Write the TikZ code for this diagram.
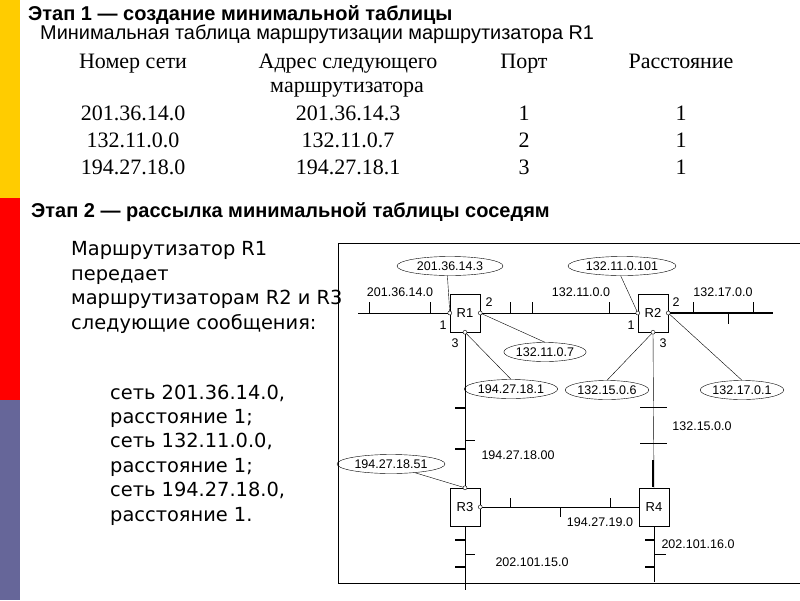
\documentclass[tikz,border=0pt]{standalone}
\usepackage{fontspec}
\setmainfont{Liberation Sans}
\newfontfamily\tabfont{Liberation Serif}
\newfontfamily\msgfont{DejaVu Sans}
\usetikzlibrary{shapes.geometric}
\definecolor{baryellow}{RGB}{255,204,0}
\definecolor{barred}{RGB}{255,0,0}
\definecolor{barslate}{RGB}{102,102,153}

\begin{document}
\begin{tikzpicture}[x=1pt,y=-1pt,
  router/.style={draw,rectangle,minimum width=30pt,minimum height=38pt,inner sep=0pt,font=\fontsize{13}{13}\selectfont},
  port/.style={draw,circle,fill=white,minimum size=4pt,inner sep=0pt},
  addr/.style={draw,ellipse,minimum height=19pt,inner sep=0pt,font=\fontsize{12.5}{12.5}\selectfont},
  lbl/.style={inner sep=0pt,font=\fontsize{12.5}{12.5}\selectfont},
  cell/.style={anchor=base,inner sep=0pt,font=\tabfont\fontsize{22}{22}\selectfont},
  msg/.style={anchor=base west,inner sep=0pt,align=left,font=\msgfont\fontsize{19.4}{24.4}\selectfont}]
\useasboundingbox (0,0) rectangle (800,600);
% Side bar
\fill[baryellow] (0,0) rectangle (20,198);
\fill[barred] (0,198) rectangle (20,400);
\fill[barslate] (0,400) rectangle (20,600);

% Stage 1 and table
\node[anchor=base west,inner sep=0pt,font=\fontsize{20}{20}\selectfont\bfseries] (stage1) at (28,20) {Этап 1 — создание минимальной таблицы};
\node[anchor=base west,inner sep=0pt,font=\fontsize{19.9}{19.9}\selectfont] (caption) at (40,39) {Минимальная таблица маршрутизации маршрутизатора R1};
\node[cell] (h1) at (133,68) {Номер сети};
\node[cell] (h2) at (348,68) {Адрес следующего};
\node[cell] (h2b) at (347,92) {маршрутизатора};
\node[cell] (h3) at (524,68) {Порт};
\node[cell] (h4) at (681,68) {Расстояние};
\foreach \net/\hop/\prt [count=\i] in {201.36.14.0/201.36.14.3/1,132.11.0.0/132.11.0.7/2,194.27.18.0/194.27.18.1/3} {
  \pgfmathsetmacro{\rowy}{94+\i*26.8}
  \node[cell] (net\i) at (133,\rowy) {\net};
  \node[cell] (hop\i) at (348,\rowy) {\hop};
  \node[cell] (prt\i) at (524,\rowy) {\prt};
  \node[cell] (dst\i) at (681,\rowy) {1};
}

% Stage 2 text
\node[anchor=base west,inner sep=0pt,font=\fontsize{20}{20}\selectfont\bfseries] (stage2) at (31,217) {Этап 2 — рассылка минимальной таблицы соседям};
\node[msg] (sends) at (71,329) {Маршрутизатор R1\\передает\\маршрутизаторам R2 и R3\\следующие сообщения:};
\node[msg] (msgs) at (110,521) {сеть 201.36.14.0,\\расстояние 1;\\сеть 132.11.0.0,\\расстояние 1;\\сеть 194.27.18.0,\\расстояние 1.};

% Frame of the network
\draw[line width=0.8pt] (800,243) -- (338,243) -- (338,583) -- (800,583);

% Routers
\node[router] (R1) at (465,313) {R1};
\node[router] (R2) at (653,313) {R2};
\node[router] (R3) at (465,507) {R3};
\node[router] (R4) at (654,507) {R4};
\coordinate (end1) at (358,313);
\coordinate (end2) at (773,313);
\coordinate (end3) at (465,590);
\coordinate (end4) at (654,582);

% Segments
\draw (end1) -- (R1.west);
\draw (R1.east) -- (R2.west);
\draw[line width=1.2pt] (R2.east) -- (end2);
\draw (R1.south) -- (R3.north);
\draw (R2.south) -- (R4.north);
\draw (R3.east) -- (R4.west);
\draw (R3.south) -- (end3);
\draw (R4.south) -- (end4);

% Stubs of hosts
\foreach \x in {369,430,510,532,609,693,753} \draw (\x,313) -- ++(0,-11);
\draw (728,313) -- ++(0,11);
\foreach \x in {510,610} \draw (\x,507) -- ++(0,-9);
\draw (560,507) -- ++(0,10);
\foreach \y in {408,449} \draw[line width=1.2pt] (465,\y) -- ++(-10,0);
\draw (465,440) -- ++(10,0);
\foreach \y in {407,443} \draw (640,\y) -- ++(27,0);
\draw[line width=1.4pt] (653,460) -- (653,487);
\foreach \y in {540,567} \draw[line width=1.2pt] (465,\y) -- ++(-10,0);
\draw (465,554) -- ++(10,0);
\foreach \y in {540,567} \draw[line width=1.2pt] (654,\y) -- ++(-9,0);
\draw (654,554) -- ++(12,0);

% Ports
\node[port] (p11) at (R1.west) {};
\node[port] (p12) at (R1.east) {};
\node[port] (p13) at (R1.south) {};
\node[port] (p21) at (R2.west) {};
\node[port] (p22) at (R2.east) {};
\node[port] (p23) at (R2.south) {};
\node[port] (p31) at (R3.north) {};
\node[port] (p32) at (R3.east) {};
\node[lbl] at (443,325) {1};
\node[lbl] at (489,302) {2};
\node[lbl] at (455,343) {3};
\node[lbl] at (631,325) {1};
\node[lbl] at (676,302) {2};
\node[lbl] at (663,343) {3};

% Network numbers
\node[lbl] (n1) at (400,292) {201.36.14.0};
\node[lbl] (n2) at (581,292) {132.11.0.0};
\node[lbl] (n3) at (723,292) {132.17.0.0};
\node[lbl] (n4) at (518,455) {194.27.18.00};
\node[lbl] (n5) at (702,426) {132.15.0.0};
\node[lbl] (n6) at (600,522) {194.27.19.0};
\node[lbl] (n7) at (532,562) {202.101.15.0};
\node[lbl] (n8) at (698,544) {202.101.16.0};

% Port addresses
\node[addr,minimum width=106pt] (a1) at (450,266) {201.36.14.3};
\node[addr,minimum width=108pt] (a2) at (622,266) {132.11.0.101};
\node[addr,minimum width=82pt] (a3) at (545,352) {132.11.0.7};
\node[addr,minimum width=82pt] (a4) at (511,389) {194.27.18.1};
\node[addr,minimum width=82pt] (a5) at (607,390) {132.15.0.6};
\node[addr,minimum width=82pt] (a6) at (742,390) {132.17.0.1};
\node[addr,minimum width=108pt] (a7) at (391,464) {194.27.18.51};
\draw (a1.255) -- (p11);
\draw (a2.262) -- (p21);
\draw (p12) -- (a3.north);
\draw (p13) -- (a4.north);
\draw (p23) -- (a5.north);
\draw (p22) -- (a6.north);
\draw (a7.-20) -- (p31);
\end{tikzpicture}
\end{document}
